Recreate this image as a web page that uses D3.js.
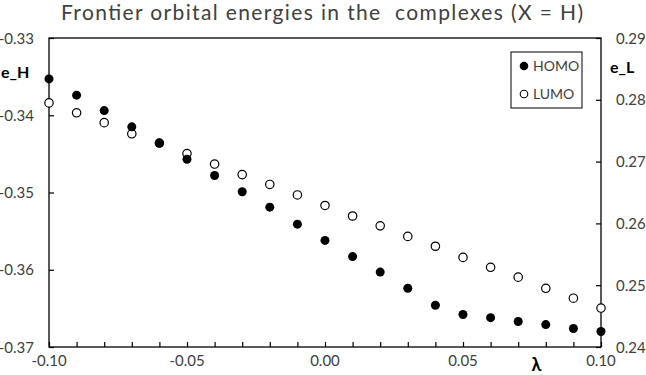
<!DOCTYPE html>
<html><head><meta charset="utf-8">
<script src="https://cdn.jsdelivr.net/npm/d3@7"></script>
<style>body{margin:0;background:#fff}svg{display:block}text{font-family:Lato,"Open Sans",sans-serif;white-space:pre}</style>
</head><body><svg id="c" width="646" height="375"></svg>
<script>
const lambda = [-0.10,-0.09,-0.08,-0.07,-0.06,-0.05,-0.04,-0.03,-0.02,-0.01,0.00,0.01,0.02,0.03,0.04,0.05,0.06,0.07,0.08,0.09,0.10];
const homo = [-0.3353,-0.3374,-0.3394,-0.3415,-0.3436,-0.3457,-0.3478,-0.3499,-0.3519,-0.3541,-0.3562,-0.3583,-0.3603,-0.3624,-0.3646,-0.3658,-0.3662,-0.3667,-0.3671,-0.3676,-0.3680];
const lumo = [0.2795,0.2779,0.2763,0.2745,0.2730,0.2713,0.2696,0.2679,0.2663,0.2646,0.2629,0.2612,0.2596,0.2579,0.2563,0.2545,0.2529,0.2513,0.2495,0.2479,0.2463];
const xTicks = [-0.10,-0.05,0.00,0.05,0.10];
const xMinor = d3.range(-10,11).map(d=>d/100);
const yLeftTicks = [-0.37,-0.36,-0.35,-0.34,-0.33];
const yRightTicks = [0.24,0.25,0.26,0.27,0.28,0.29];
const title = "Frontier orbital energies in the  complexes (X = H)";

const svg = d3.select("#c");
const L=49, R=601, T=38, B=347;
const x = d3.scaleLinear().domain([-0.10,0.10]).range([L,R]);
const yL = d3.scaleLinear().domain([-0.37,-0.33]).range([B,T]);
const yR = d3.scaleLinear().domain([0.24,0.29]).range([B,T]);
const tc = "#404040";
const fmt = d => d3.format(".2f")(d).replace("−","-");

svg.append("rect").attr("x",L).attr("y",T).attr("width",R-L).attr("height",B-T)
  .attr("fill","none").attr("stroke","#000").attr("stroke-width",1.3);

const gx = svg.append("g").attr("transform",`translate(0,${B})`)
  .call(d3.axisBottom(x).tickValues(xMinor).tickSize(-5).tickFormat(""));
gx.select(".domain").remove();
gx.selectAll("line").attr("stroke","#000").attr("stroke-width",1.2);
svg.append("g").selectAll("text").data(xTicks).join("text")
  .attr("x",d=>x(d)).attr("y",366).attr("text-anchor","middle")
  .attr("font-size",15).attr("fill",tc).text(fmt);

const gl = svg.append("g").attr("transform",`translate(${L},0)`)
  .call(d3.axisLeft(yL).tickValues(yLeftTicks).tickSize(-5).tickFormat(""));
gl.select(".domain").remove();
gl.selectAll("line").attr("stroke","#000").attr("stroke-width",1.2);
svg.append("g").selectAll("text").data(yLeftTicks).join("text")
  .attr("x",34).attr("y",d=>yL(d)+5.5).attr("text-anchor","end")
  .attr("font-size",15).attr("fill",tc).text(fmt);

const gr = svg.append("g").attr("transform",`translate(${R},0)`)
  .call(d3.axisRight(yR).tickValues(yRightTicks).tickSize(-5).tickFormat(""));
gr.select(".domain").remove();
gr.selectAll("line").attr("stroke","#000").attr("stroke-width",1.2);
svg.append("g").selectAll("text").data(yRightTicks).join("text")
  .attr("x",616).attr("y",d=>yR(d)+5.5).attr("text-anchor","start")
  .attr("font-size",15).attr("fill",tc).text(fmt);

// title
svg.append("text").attr("x",61).attr("y",20).attr("text-anchor","start")
  .attr("font-size",21).attr("fill",tc)
  .attr("textLength",522).attr("lengthAdjust","spacing").text(title);

// axis titles
svg.append("text").attr("x",1).attr("y",78).attr("font-size",16).attr("font-weight","bold").attr("fill","#000").text("e_H");
svg.append("text").attr("x",610).attr("y",72.5).attr("font-size",16).attr("font-weight","bold").attr("fill","#000").text("e_L");
svg.append("text").attr("x",536.5).attr("y",371).attr("text-anchor","middle").attr("font-size",18).attr("font-weight","bold").attr("fill","#000").text("λ");

// points
const idx = d3.range(lambda.length);
svg.append("g").selectAll("circle").data(idx).join("circle")
  .attr("cx",i=>x(lambda[i])).attr("cy",i=>yR(lumo[i])).attr("r",4.2)
  .attr("fill","#fff").attr("stroke","#000").attr("stroke-width",1.2);
svg.append("g").selectAll("circle").data(idx).join("circle")
  .attr("cx",i=>x(lambda[i])).attr("cy",i=>yL(homo[i])).attr("r",4.5)
  .attr("fill","#000");

// legend
const lg = svg.append("g");
lg.append("rect").attr("x",511).attr("y",52).attr("width",71).attr("height",56)
  .attr("fill","#fff").attr("stroke","#000").attr("stroke-width",1);
lg.append("circle").attr("cx",524).attr("cy",66).attr("r",4.3).attr("fill","#000");
lg.append("circle").attr("cx",524).attr("cy",94).attr("r",3.8).attr("fill","#fff").attr("stroke","#000").attr("stroke-width",1.1);
lg.append("text").attr("x",533).attr("y",71).attr("font-size",14).attr("fill",tc).text("HOMO");
lg.append("text").attr("x",533).attr("y",99).attr("font-size",14).attr("fill",tc).text("LUMO");
</script></body></html>
